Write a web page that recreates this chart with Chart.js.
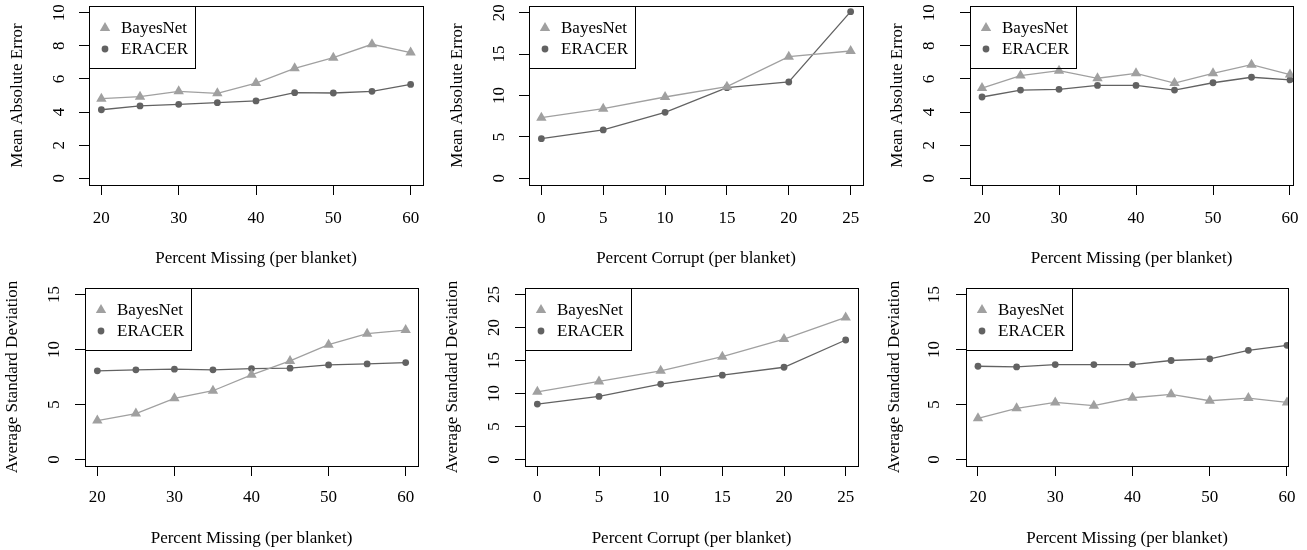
<!DOCTYPE html>
<html>
<head>
<meta charset="utf-8">
<script src="https://cdn.jsdelivr.net/npm/chart.js@4.4.0/dist/chart.umd.min.js"></script>
<style>
  html, body { margin: 0; padding: 0; background: #fff; }
  #wrap { position: relative; width: 1307px; height: 550px; overflow: hidden; }
  #wrap canvas { position: absolute; }
</style>
</head>
<body>
<div id="wrap"></div>
<script>
// ---- data ----
const seriesNames = ['BayesNet', 'ERACER'];
const pctMissing = [20, 25, 30, 35, 40, 45, 50, 55, 60];
const pctCorrupt = [0, 5, 10, 15, 20, 25];

const xTicksMissing = [20, 30, 40, 50, 60];
const xTicksCorrupt = [0, 5, 10, 15, 20, 25];
const yTicks10 = [0, 2, 4, 6, 8, 10];
const yTicks20 = [0, 5, 10, 15, 20];
const yTicks15 = [0, 5, 10, 15];
const yTicks25 = [0, 5, 10, 15, 20, 25];

// top row: mean absolute error
const maeMissBayes   = [4.81, 4.93, 5.25, 5.13, 5.75, 6.64, 7.28, 8.09, 7.59];
const maeMissEracer  = [4.14, 4.37, 4.47, 4.57, 4.67, 5.17, 5.15, 5.25, 5.67];
const maeCorrBayes   = [7.32, 8.41, 9.82, 11.07, 14.69, 15.37];
const maeCorrEracer  = [4.79, 5.84, 7.97, 10.95, 11.63, 20.12];
const maeMiss2Bayes  = [5.45, 6.20, 6.50, 6.04, 6.34, 5.75, 6.34, 6.86, 6.26];
const maeMiss2Eracer = [4.91, 5.33, 5.37, 5.61, 5.61, 5.33, 5.77, 6.10, 5.94];

// bottom row: average standard deviation
const sdMissBayes    = [3.53, 4.17, 5.56, 6.25, 7.70, 8.96, 10.44, 11.44, 11.77];
const sdMissEracer   = [8.06, 8.15, 8.21, 8.15, 8.27, 8.30, 8.60, 8.69, 8.81];
const sdCorrBayes    = [10.26, 11.82, 13.43, 15.59, 18.26, 21.53];
const sdCorrEracer   = [8.40, 9.56, 11.42, 12.78, 13.98, 18.11];
const sdMiss2Bayes   = [3.74, 4.65, 5.19, 4.89, 5.61, 5.92, 5.34, 5.58, 5.19];
const sdMiss2Eracer  = [8.48, 8.42, 8.63, 8.63, 8.63, 9.00, 9.15, 9.93, 10.38];

const titleMiss = 'Percent Missing (per blanket)';
const titleCorr = 'Percent Corrupt (per blanket)';
const titleMae = 'Mean Absolute Error';
const titleSd = 'Average Standard Deviation';

// ---- layout of the six panels (pixels on the page) ----
const FONT = '"Liberation Serif", "Times New Roman", serif';
const FS = 17, LH = FS * 1.2, TICK = 10;
const colBayes = '#a0a0a0', colEracer = '#626262';

const panels = [
  { x0: 0,   y0: 0,   w: 440, h: 275, box: [89, 6, 423, 185],   yT: 18,  yL: 60,  xL: 219, xT: 259,
    xs: pctMissing, a: maeMissBayes, b: maeMissEracer, xTicks: xTicksMissing, yTicks: yTicks10,
    xr: [18.4, 61.6], yr: [-0.4, 10.4], xTitle: titleMiss, yTitle: titleMae },
  { x0: 440, y0: 0,   w: 435, h: 275, box: [529, 6, 863, 185],  yT: 458, yL: 500, xL: 219, xT: 259,
    xs: pctCorrupt, a: maeCorrBayes, b: maeCorrEracer, xTicks: xTicksCorrupt, yTicks: yTicks20,
    xr: [-1, 26], yr: [-0.8, 20.8], xTitle: titleCorr, yTitle: titleMae },
  { x0: 875, y0: 0,   w: 432, h: 275, box: [970, 6, 1293, 185], yT: 898, yL: 930, xL: 219, xT: 259,
    xs: pctMissing, a: maeMiss2Bayes, b: maeMiss2Eracer, xTicks: xTicksMissing, yTicks: yTicks10,
    xr: [18.44, 60.39], yr: [-0.4, 10.4], xTitle: titleMiss, yTitle: titleMae },
  { x0: 0,   y0: 275, w: 440, h: 275, box: [85, 288, 418, 466],  yT: 13,  yL: 55,  xL: 498, xT: 539,
    xs: pctMissing, a: sdMissBayes, b: sdMissEracer, xTicks: xTicksMissing, yTicks: yTicks15,
    xr: [18.4, 61.6], yr: [-0.6, 15.6], xTitle: titleMiss, yTitle: titleSd },
  { x0: 440, y0: 275, w: 435, h: 275, box: [525, 288, 858, 466], yT: 453, yL: 495, xL: 498, xT: 539,
    xs: pctCorrupt, a: sdCorrBayes, b: sdCorrEracer, xTicks: xTicksCorrupt, yTicks: yTicks25,
    xr: [-1, 26], yr: [-1, 26], xTitle: titleCorr, yTitle: titleSd },
  { x0: 875, y0: 275, w: 432, h: 275, box: [966, 288, 1288, 466], yT: 895, yL: 935, xL: 498, xT: 539,
    xs: pctMissing, a: sdMiss2Bayes, b: sdMiss2Eracer, xTicks: xTicksMissing, yTicks: yTicks15,
    xr: [18.45, 60.13], yr: [-0.6, 15.6], xTitle: titleMiss, yTitle: titleSd },
];

// box around the plot region + R-style legend in the top-left corner
const frameAndLegend = {
  id: 'frameAndLegend',
  afterDatasetsDraw(chart) {
    const { ctx, chartArea: ca } = chart;
    const l = Math.round(ca.left) + 0.5, t = Math.round(ca.top) + 0.5;
    ctx.save();
    ctx.strokeStyle = '#000';
    ctx.lineWidth = 1;
    ctx.strokeRect(l, t, Math.round(ca.right - ca.left), Math.round(ca.bottom - ca.top));
    ctx.strokeRect(l, t, 106, 62);
    ctx.font = FS + 'px ' + FONT;
    ctx.textBaseline = 'middle';
    chart.data.datasets.forEach((ds, i) => {
      const cy = ca.top + 22 + i * 21;
      ctx.fillStyle = ds.pointBackgroundColor;
      Chart.helpers.drawPoint(ctx, { pointStyle: ds.pointStyle, radius: ds.pointRadius, borderWidth: 0, rotation: 0 }, ca.left + 16, cy);
      ctx.fillStyle = '#000';
      ctx.fillText(ds.label, ca.left + 32, cy + 1);
    });
    ctx.restore();
  }
};

const wrap = document.getElementById('wrap');

panels.forEach(p => {
  const cv = document.createElement('canvas');
  cv.width = p.w; cv.height = p.h;
  cv.style.left = p.x0 + 'px'; cv.style.top = p.y0 + 'px';
  cv.style.width = p.w + 'px'; cv.style.height = p.h + 'px';
  wrap.appendChild(cv);

  const [bl, bt, br, bb] = p.box;
  const font = { family: FONT, size: FS, lineHeight: 1.2 };
  const pts = vals => p.xs.map((x, i) => ({ x: x, y: vals[i] }));
  const line = (name, vals, col, style, r) => ({
    label: name, data: pts(vals),
    borderColor: col, borderWidth: 1.3,
    pointStyle: style, pointRadius: r, pointHoverRadius: r,
    pointBackgroundColor: col, pointBorderColor: col, pointBorderWidth: 0,
    tension: 0, fill: false,
  });

  new Chart(cv, {
    type: 'line',
    data: {
      datasets: [
        line(seriesNames[0], p.a, colBayes, 'triangle', 6),
        line(seriesNames[1], p.b, colEracer, 'circle', 3.4),
      ]
    },
    options: {
      responsive: false,
      animation: false,
      devicePixelRatio: 1,
      layout: { padding: { left: 0, top: bt - p.y0, right: p.x0 + p.w - br, bottom: 0 } },
      plugins: { legend: { display: false }, tooltip: { enabled: false } },
      scales: {
        x: {
          type: 'linear', min: p.xr[0], max: p.xr[1],
          afterBuildTicks: s => { s.ticks = p.xTicks.map(v => ({ value: v })); },
          afterFit: s => { s.height = p.y0 + p.h - bb; s.paddingLeft = 0; s.paddingRight = 0; },
          grid: { drawOnChartArea: false, drawTicks: true, tickLength: TICK, color: '#000', lineWidth: 1 },
          border: { display: false },
          ticks: { color: '#000', font: font, autoSkip: false, maxRotation: 0, minRotation: 0,
                   padding: p.xL - bb - TICK - LH / 2 },
          title: { display: true, text: p.xTitle, color: '#000', font: font,
                   padding: { top: 0, bottom: p.y0 + p.h - p.xT - LH / 2 } },
        },
        y: {
          type: 'linear', min: p.yr[0], max: p.yr[1],
          afterBuildTicks: s => { s.ticks = p.yTicks.map(v => ({ value: v })); },
          afterFit: s => { s.width = bl - p.x0; s.paddingTop = 0; s.paddingBottom = 0; },
          grid: { drawOnChartArea: false, drawTicks: true, tickLength: TICK, color: '#000', lineWidth: 1 },
          border: { display: false },
          ticks: { color: '#000', font: font, minRotation: 90, maxRotation: 90, crossAlign: 'center',
                   padding: bl - TICK - 8.5 - p.yL },
          title: { display: true, text: p.yTitle, color: '#000', font: font,
                   padding: { top: p.yT - p.x0 - LH / 2, bottom: 0 } },
        }
      }
    },
    plugins: [frameAndLegend]
  });
});
</script>
</body>
</html>
